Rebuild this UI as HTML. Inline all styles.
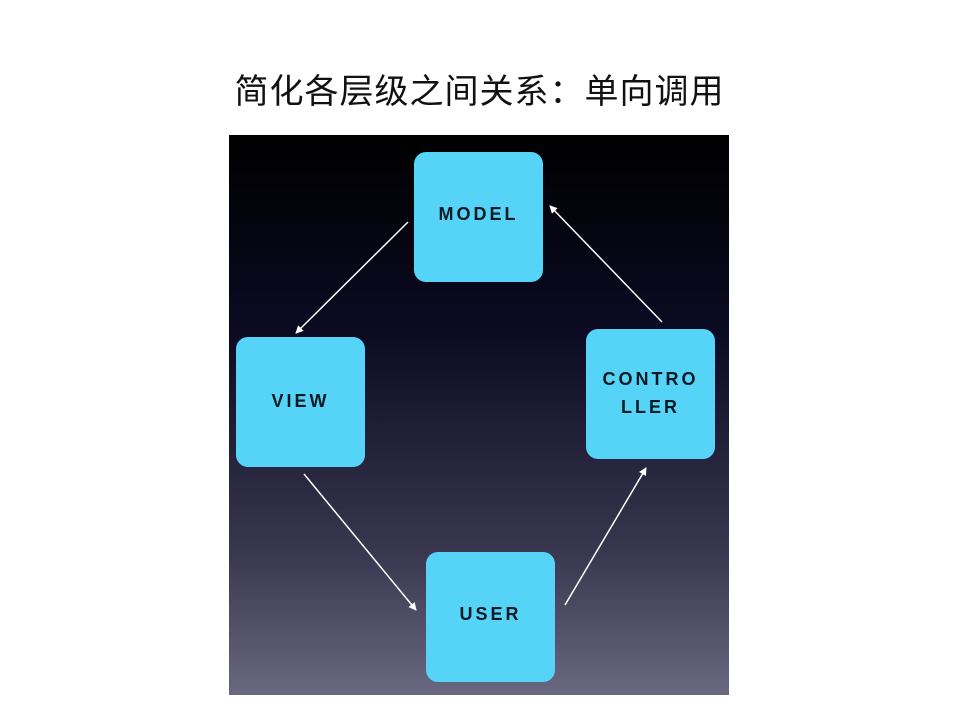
<!DOCTYPE html>
<html><head><meta charset="utf-8"><style>
html,body{margin:0;padding:0;background:#fff;width:959px;height:720px;overflow:hidden}
.t{position:absolute;left:0;width:959px;top:64px;text-align:center;font:34px "Liberation Sans","Noto Sans CJK SC",sans-serif;letter-spacing:1px;color:#111}
.bg{position:absolute;left:229px;top:135px;width:500px;height:560px;background:linear-gradient(#000 0%,#0b0a22 35%,#3a3850 75%,#6a6880 100%)}
.b{position:absolute;width:129px;height:130px;background:#55d4f8;border-radius:12px;display:flex;align-items:center;justify-content:center;text-align:center;font:bold 18px "Liberation Sans",sans-serif;letter-spacing:3px;color:#0a1a24;line-height:28px}
</style></head><body>
<div class="t">简化各层级之间关系：单向调用</div>
<div class="bg"></div>
<div class="b" style="left:414px;top:152px"><span style="margin-top:-6px">MODEL</span></div>
<div class="b" style="left:236px;top:337px"><span style="margin-top:-2px">VIEW</span></div>
<div class="b" style="left:586px;top:329px"><span style="margin-top:-2px">CONTRO<br>LLER</span></div>
<div class="b" style="left:426px;top:552px"><span style="margin-top:-6px">USER</span></div>
<svg width="959" height="720" style="position:absolute;left:0;top:0">
<defs><marker id="a" markerWidth="8" markerHeight="8" refX="7" refY="4" orient="auto" markerUnits="userSpaceOnUse"><path d="M0,0 L8,4 L0,8 z" fill="#fff"/></marker></defs>
<g stroke="#fff" stroke-width="1.5" marker-end="url(#a)">
<line x1="408" y1="222" x2="296" y2="333"/>
<line x1="662" y1="322" x2="550" y2="206"/>
<line x1="304" y1="474" x2="416" y2="610"/>
<line x1="565" y1="605" x2="646" y2="468"/>
</g></svg>
</body></html>
